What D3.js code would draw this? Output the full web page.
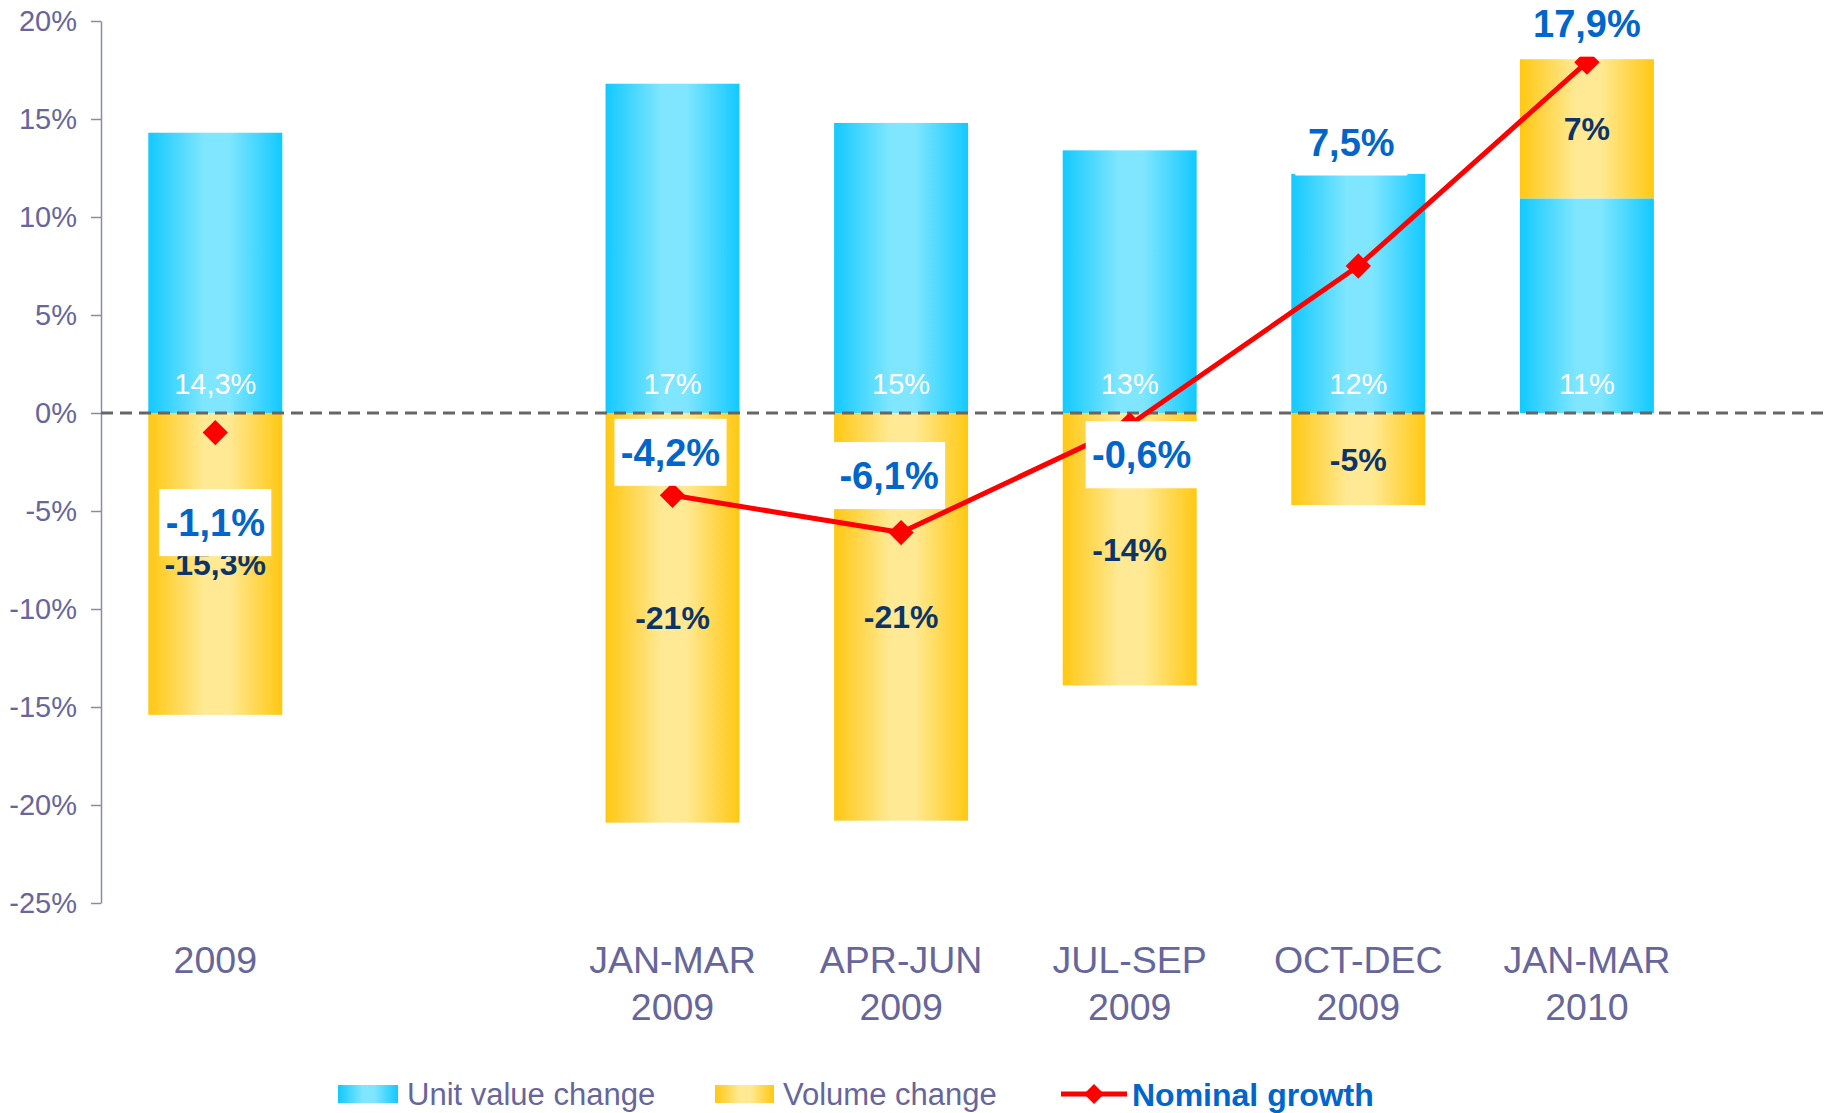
<!DOCTYPE html>
<html>
<head>
<meta charset="utf-8">
<script src="https://cdn.jsdelivr.net/npm/d3@7"></script>
<style>
  body { margin: 0; background: #fff; }
  svg { display: block; font-family: Arial, "Liberation Sans", sans-serif; }
</style>
</head>
<body>
<svg></svg>
<script>
let width = 1825;
let height = 1113;

// data
const slots = ["2009", "gap", "JAN-MAR 2009", "APR-JUN 2009", "JUL-SEP 2009", "OCT-DEC 2009", "JAN-MAR 2010"];
const categories = ["2009", "JAN-MAR 2009", "APR-JUN 2009", "JUL-SEP 2009", "OCT-DEC 2009", "JAN-MAR 2010"];
const catLines = [["2009"], ["JAN-MAR", "2009"], ["APR-JUN", "2009"], ["JUL-SEP", "2009"], ["OCT-DEC", "2009"], ["JAN-MAR", "2010"]];
const unitValue = [14.3, 16.8, 14.8, 13.4, 12.2, 10.95];
const unitLabels = ["14,3%", "17%", "15%", "13%", "12%", "11%"];
const volume = [-15.4, -20.9, -20.8, -13.9, -4.7, 7.1];
const volumeLabels = ["-15,3%", "-21%", "-21%", "-14%", "-5%", "7%"];
const nominal = [-1.0, -4.2, -6.1, -0.6, 7.5, 17.9];
const nominalLabels = ["-1,1%", "-4,2%", "-6,1%", "-0,6%", "7,5%", "17,9%"];
const yTicks = [-25, -20, -15, -10, -5, 0, 5, 10, 15, 20];

// where the growth labels sit relative to their point
const nomLabelOffset = [[0, 90], [-2, -43], [-12, -57], [12, 30], [-7, -124], [0, -39]];

const svg = d3.select("svg")
  .attr("width", width)
  .attr("height", height);

//gradients
const defs = svg.append("defs");
function addGrad(id, edge, mid) {
  const g = defs.append("linearGradient").attr("id", id)
    .attr("x1", 0).attr("x2", 1).attr("y1", 0).attr("y2", 0);
  g.append("stop").attr("offset", 0).attr("stop-color", edge);
  g.append("stop").attr("offset", 0.42).attr("stop-color", mid);
  g.append("stop").attr("offset", 0.6).attr("stop-color", mid);
  g.append("stop").attr("offset", 1).attr("stop-color", edge);
}
addGrad("blueGrad", "#12c9ff", "#80e6ff");
addGrad("yellowGrad", "#ffc812", "#ffe994");

//scales
const xScale = d3.scaleBand()
  .domain(slots)
  .range([101, 101 + 7 * 228.6])
  .paddingInner(0.414)
  .paddingOuter(0.207);
const yScale = d3.scaleLinear()
  .domain([-25, 20])
  .range([903, 21]);

const cx = (i) => xScale(categories[i]) + xScale.bandwidth() / 2;

//axis
const yAxis = d3.axisLeft(yScale)
  .tickValues(yTicks)
  .tickFormat((d) => d + "%")
  .tickSize(10)
  .tickSizeOuter(0)
  .tickPadding(14);
const yAxisG = svg.append("g")
  .attr("transform", "translate(101, 0)")
  .call(yAxis);
yAxisG.select(".domain").attr("stroke", "#8a8ab0").attr("stroke-width", 1.5);
yAxisG.selectAll(".tick line").attr("stroke", "#8a8ab0").attr("stroke-width", 1.5);
yAxisG.selectAll(".tick text")
  .attr("fill", "#66669a")
  .style("font-size", "29px")
  .style("font-family", "Arial, 'Liberation Sans', sans-serif");

//category labels
catLines.forEach((lines, i) => {
  const t = svg.append("text")
    .attr("text-anchor", "middle")
    .attr("fill", "#66669a")
    .style("font-size", "37.5px");
  lines.forEach((l, j) => {
    t.append("tspan")
      .attr("x", cx(i))
      .attr("y", 973 + j * 47)
      .text(l);
  });
});

//bars
const bw = xScale.bandwidth();
svg.selectAll(".unit")
  .data(unitValue)
  .enter()
  .append("rect")
  .attr("class", "unit")
  .attr("x", (d, i) => xScale(categories[i]))
  .attr("width", bw)
  .attr("y", (d) => yScale(d))
  .attr("height", (d) => yScale(0) - yScale(d))
  .attr("fill", "url(#blueGrad)");

const volBase = (d, i) => d >= 0 ? unitValue[i] : 0;
svg.selectAll(".vol")
  .data(volume)
  .enter()
  .append("rect")
  .attr("class", "vol")
  .attr("x", (d, i) => xScale(categories[i]))
  .attr("width", bw)
  .attr("y", (d, i) => yScale(Math.max(volBase(d, i), volBase(d, i) + d)))
  .attr("height", (d) => Math.abs(yScale(0) - yScale(d)))
  .attr("fill", "url(#yellowGrad)");

//zero line
svg.append("line")
  .attr("x1", 101)
  .attr("x2", width)
  .attr("y1", yScale(0))
  .attr("y2", yScale(0))
  .attr("stroke", "#666")
  .attr("stroke-width", 3)
  .attr("stroke-dasharray", "12,7");

//bar labels
svg.selectAll(".unitLabel")
  .data(unitLabels)
  .enter()
  .append("text")
  .attr("x", (d, i) => cx(i))
  .attr("y", yScale(0) - 29)
  .attr("dy", "0.36em")
  .attr("text-anchor", "middle")
  .attr("fill", "#fff")
  .style("font-size", "29px")
  .text((d) => d);

svg.selectAll(".volLabel")
  .data(volumeLabels)
  .enter()
  .append("text")
  .attr("x", (d, i) => cx(i))
  .attr("y", (d, i) => yScale(volBase(volume[i], i) + volume[i] / 2))
  .attr("dy", "0.36em")
  .attr("text-anchor", "middle")
  .attr("fill", "#0d3466")
  .style("font-size", "32px")
  .style("font-weight", "bold")
  .text((d) => d);

//nominal growth line
const line = d3.line()
  .x((d) => cx(d))
  .y((d) => yScale(nominal[d]));
svg.append("path")
  .attr("d", line([1, 2, 3, 4, 5]))
  .attr("fill", "none")
  .attr("stroke", "#ff0000")
  .attr("stroke-width", 5)
  .attr("stroke-linejoin", "round");

const diamond = d3.symbol(d3.symbolSquare, 320);
svg.selectAll(".marker")
  .data(nominal)
  .enter()
  .append("path")
  .attr("class", "marker")
  .attr("d", diamond)
  .attr("fill", "#ff0000")
  .attr("transform", (d, i) => `translate(${cx(i)}, ${yScale(d)}) rotate(45)`);

//nominal labels
nominal.forEach((d, i) => {
  const x = cx(i) + nomLabelOffset[i][0];
  const y = yScale(d) + nomLabelOffset[i][1];
  svg.append("rect")
    .attr("x", x - 56)
    .attr("y", y - 33.5)
    .attr("width", 112)
    .attr("height", 67)
    .attr("fill", "#fff");
  svg.append("text")
    .attr("x", x)
    .attr("y", y)
    .attr("dy", "0.36em")
    .attr("text-anchor", "middle")
    .attr("fill", "#0066cc")
    .style("font-size", "38px")
    .style("font-weight", "bold")
    .text(nominalLabels[i]);
});

//legend
const ly = 1094;
svg.append("rect")
  .attr("x", 338).attr("y", ly - 9)
  .attr("width", 60).attr("height", 18)
  .attr("fill", "url(#blueGrad)");
svg.append("text")
  .attr("x", 407).attr("y", ly).attr("dy", "0.36em")
  .attr("fill", "#66669a")
  .style("font-size", "31px")
  .text("Unit value change");
svg.append("rect")
  .attr("x", 715).attr("y", ly - 9)
  .attr("width", 59).attr("height", 18)
  .attr("fill", "url(#yellowGrad)");
svg.append("text")
  .attr("x", 783).attr("y", ly).attr("dy", "0.36em")
  .attr("fill", "#66669a")
  .style("font-size", "31px")
  .text("Volume change");
svg.append("line")
  .attr("x1", 1061).attr("x2", 1127)
  .attr("y1", ly).attr("y2", ly)
  .attr("stroke", "#ff0000")
  .attr("stroke-width", 5);
svg.append("path")
  .attr("d", d3.symbol(d3.symbolSquare, 200))
  .attr("fill", "#ff0000")
  .attr("transform", `translate(1094, ${ly}) rotate(45)`);
svg.append("text")
  .attr("x", 1132).attr("y", ly).attr("dy", "0.36em")
  .attr("fill", "#0066cc")
  .style("font-size", "32px")
  .style("font-weight", "bold")
  .text("Nominal growth");
</script>
</body>
</html>
